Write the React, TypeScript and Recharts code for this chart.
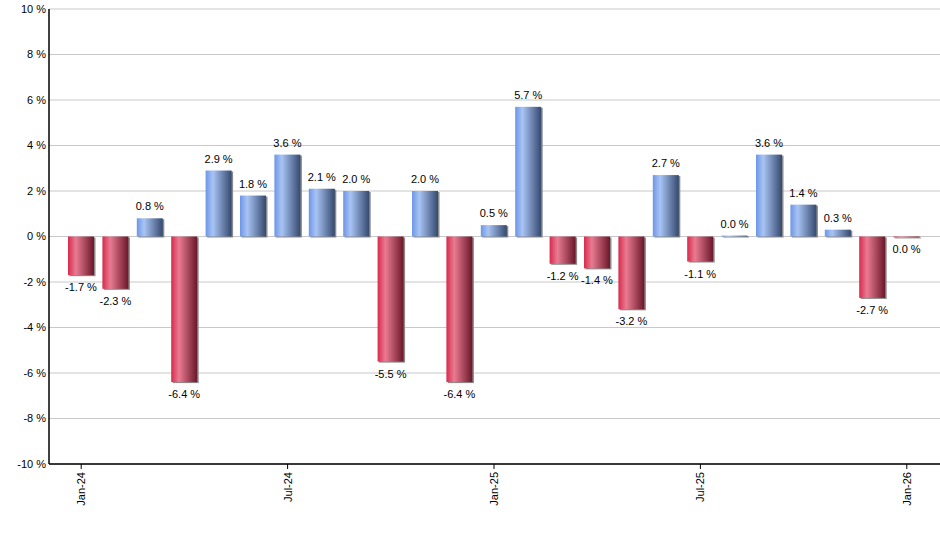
import React from "react";
import { BarChart, Bar, XAxis, YAxis, CartesianGrid, Cell, LabelList } from "recharts";

const months = [
  "Jan-24", "Feb-24", "Mar-24", "Apr-24", "May-24", "Jun-24", "Jul-24", "Aug-24", "Sep-24", "Oct-24", "Nov-24", "Dec-24",
  "Jan-25", "Feb-25", "Mar-25", "Apr-25", "May-25", "Jun-25", "Jul-25", "Aug-25", "Sep-25", "Oct-25", "Nov-25", "Dec-25",
  "Jan-26",
];
const changes = [
  -1.7, -2.3, 0.8, -6.4, 2.9, 1.8, 3.6, 2.1, 2.0, -5.5, 2.0, -6.4,
  0.5, 5.7, -1.2, -1.4, -3.2, 2.7, -1.1, 0.04, 3.6, 1.4, 0.3, -2.7,
  -0.04,
];
const yTicks = [-10, -8, -6, -4, -2, 0, 2, 4, 6, 8, 10];

const data = months.map((m, i) => ({ month: m, change: changes[i] }));

const FONT = "'Liberation Sans', Arial, sans-serif";

const fmt = (v: number) => {
  const r = Math.abs(v) < 0.05 ? 0 : v;
  return `${r.toFixed(1)} %`;
};

const BarShape = (props: any) => {
  const { x, y, width, height, fill } = props;
  const top = Math.min(y, y + height);
  const h = Math.abs(height);
  if (!isFinite(top) || !isFinite(h)) return null;
  return (
    <g>
      <rect x={x + 1.5} y={top + 1} width={width} height={Math.max(h, 0.5)} fill="#8a8a8a" />
      <rect x={x} y={top} width={width} height={Math.max(h, 1)} fill={fill} />
    </g>
  );
};

const ValueLabel = (props: any) => {
  const { x, y, width, height, value } = props;
  const top = Math.min(y, y + height);
  const bottom = Math.max(y, y + height);
  const cx = x + width / 2;
  const positive = value >= 0;
  const ty = positive ? top - 8 : bottom + 16;
  return (
    <text x={cx} y={ty} textAnchor="middle" fontFamily={FONT} fontSize={11} fill="#000">
      {fmt(value)}
    </text>
  );
};

const XTick = (props: any) => {
  const { x, y, payload } = props;
  return (
    <text
      x={x}
      y={y}
      dy={4}
      transform={`rotate(-90, ${x}, ${y})`}
      textAnchor="end"
      fontFamily={FONT}
      fontSize={11}
      fill="#000"
    >
      {payload.value}
    </text>
  );
};

export default function App() {
  return (
    <div style={{ position: "absolute", left: 0, top: 0, width: 940, height: 550, background: "#fff" }}>
      <BarChart
        width={940}
        height={550}
        data={data}
        margin={{ top: 9, right: 0, bottom: 0, left: 0 }}
        barCategoryGap={0}
      >
        <defs>
          <linearGradient id="blueGrad" x1="0" y1="0" x2="1" y2="0">
            <stop offset="0%" stopColor="#6c96e6" />
            <stop offset="28%" stopColor="#a9c4f4" />
            <stop offset="100%" stopColor="#34496f" />
          </linearGradient>
          <linearGradient id="redGrad" x1="0" y1="0" x2="1" y2="0">
            <stop offset="0%" stopColor="#d82a4c" />
            <stop offset="30%" stopColor="#e97b92" />
            <stop offset="100%" stopColor="#6a1729" />
          </linearGradient>
        </defs>
        <CartesianGrid vertical={false} stroke="#c8c8c8" />
        <XAxis
          dataKey="month"
          interval={5}
          height={86}
          padding={{ left: 15, right: 16 }}
          axisLine={{ stroke: "#000", strokeWidth: 1.5 }}
          tickLine={{ stroke: "#000" }}
          tickSize={5}
          tickMargin={3}
          tick={<XTick />}
        />
        <YAxis
          width={49}
          domain={[-10, 10]}
          ticks={yTicks}
          interval={0}
          axisLine={{ stroke: "#000", strokeWidth: 1.5 }}
          tickLine={false}
          tickSize={0}
          tickMargin={3}
          tickFormatter={(v: number) => `${v} %`}
          tick={{ fontFamily: FONT, fontSize: 11, fill: "#000" }}
        />
        <Bar dataKey="change" barSize={26} isAnimationActive={false} shape={<BarShape />}>
          {data.map((d, i) => (
            <Cell key={i} fill={d.change >= 0 ? "url(#blueGrad)" : "url(#redGrad)"} />
          ))}
          <LabelList dataKey="change" content={<ValueLabel />} />
        </Bar>
      </BarChart>
    </div>
  );
}
